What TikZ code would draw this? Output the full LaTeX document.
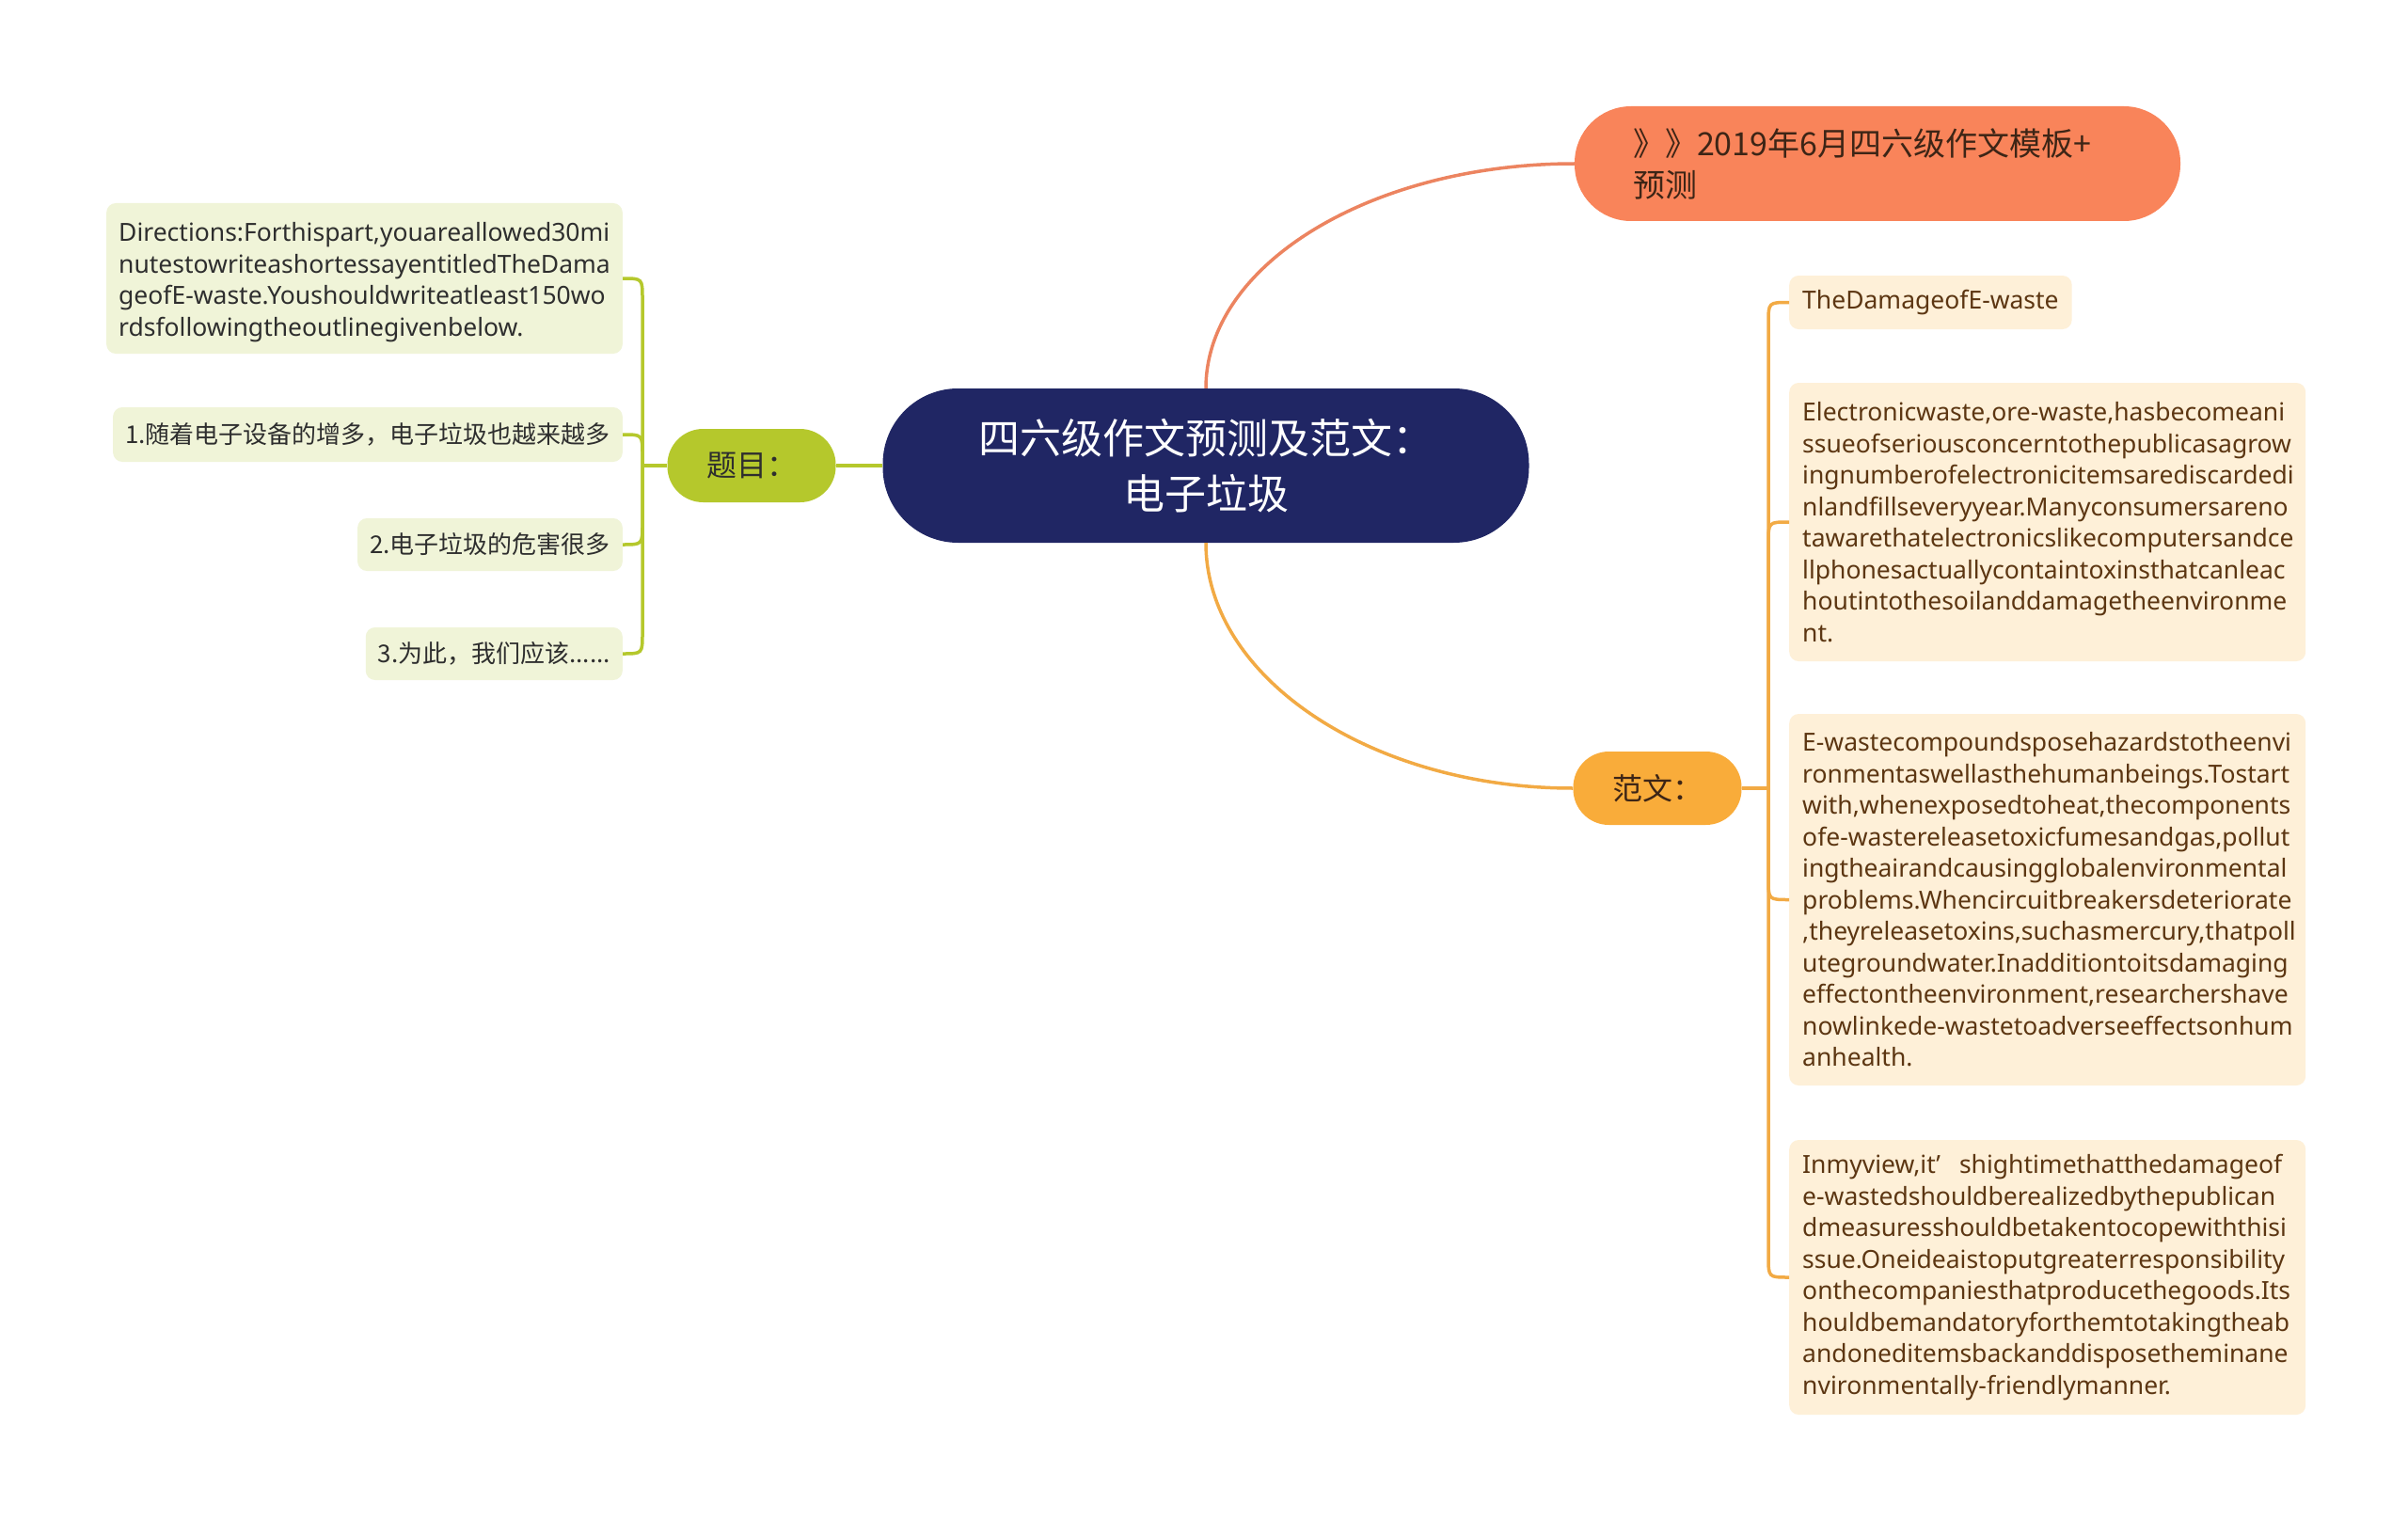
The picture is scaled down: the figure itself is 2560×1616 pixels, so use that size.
\documentclass[tikz,border=0pt]{standalone}
\usepackage{fontspec}
\setmainfont{Noto Sans}
\newfontfamily\cjk{Noto Sans CJK SC}
\definecolor{hubnavy}{HTML}{202664}
\definecolor{topfill}{HTML}{F9845A}
\definecolor{topline}{HTML}{EC8460}
\definecolor{toptext}{HTML}{3D2516}
\definecolor{grn}{HTML}{B5C82C}
\definecolor{grnbox}{HTML}{F0F4D8}
\definecolor{grntext}{HTML}{2E2E2E}
\definecolor{ylw}{HTML}{F9AC3A}
\definecolor{ylwline}{HTML}{F2AA44}
\definecolor{cream}{HTML}{FEF0D8}
\definecolor{browntext}{HTML}{5C3612}
\hyphenpenalty=10000
\exhyphenpenalty=10000
\begin{document}
\begin{tikzpicture}[x=1pt,y=-1pt,
  hub/.style={fill=hubnavy,text=white,rounded corners=80pt,minimum width=687pt,minimum height=164pt,
    align=center,font=\cjk\fontsize{44}{59}\selectfont,inner sep=0pt},
  topnode/.style={fill=topfill,text=toptext,rounded corners=60pt,minimum height=122pt,
    text width=520pt,align=left,inner xsep=62pt,inner ysep=0pt,font=\cjk\fontsize{34}{44}\selectfont},
  pill/.style={rounded corners=38pt,minimum width=179pt,minimum height=78pt,inner sep=0pt,
    font=\cjk\fontsize{32}{40}\selectfont},
  gbox/.style={fill=grnbox,text=grntext,rounded corners=10pt,inner xsep=13pt,inner ysep=0pt,
    align=left,anchor=east},
  cbox/.style={fill=cream,text=browntext,rounded corners=10pt,inner xsep=14pt,inner ysep=0pt,
    align=left,anchor=west,font=\fontsize{26.5}{33.5}\selectfont},
  latinfont/.style={font=\fontsize{26.5}{33.5}\selectfont},
  cjkfont/.style={font=\cjk\fontsize{26}{33.5}\selectfont},
  gline/.style={draw=grn,line width=3.5pt},
  oline/.style={draw=topline,line width=3.5pt},
  yline/.style={draw=ylwline,line width=3.5pt}]
\useasboundingbox (0,0) rectangle (2560,1616);
\fill[white] (0,0) rectangle (2560,1616);

% central and first-level nodes
\node[hub] (c) at (1282,495) {四六级作文预测及范文：\\电子垃圾};
\node[topnode] (top) at (1996,174) {》》2019年6月四六级作文模板+\\预测};
\node[pill,fill=grn,text=grntext] (tm) at (799,495) {题目：};
\node[pill,fill=ylw,text=toptext] (fw) at (1762,838) {范文：};

% left boxes
\node[gbox,latinfont,minimum height=160pt] (l1) at (662,296)
 {\rule{0pt}{28pt}Directions:Forthispart,youareallowed30mi\\nutestowriteashortessayentitledTheDama\\geofE-waste.Youshouldwriteatleast150wo\\rdsfollowingtheoutlinegivenbelow.};
\node[gbox,cjkfont,minimum height=58pt] (l2) at (662,462) {1.随着电子设备的增多，电子垃圾也越来越多};
\node[gbox,cjkfont,minimum height=56pt] (l3) at (662,579) {2.电子垃圾的危害很多};
\node[gbox,cjkfont,minimum height=56pt] (l4) at (662,695) {3.为此，我们应该......};

% right boxes
\node[cbox,minimum height=57pt] (r1) at (1902,321.5) {TheDamageofE-waste};
\node[cbox,text width=521pt,minimum height=296pt] (r2) at (1902,555)
 {Electronicwaste,ore-waste,hasbecomeani\\ssueofseriousconcerntothepublicasagrow\\ingnumberofelectronicitemsarediscardedi\\nlandfillseveryyear.Manyconsumersareno\\tawarethatelectronicslikecomputersandce\\llphonesactuallycontaintoxinsthatcanleac\\houtintothesoilanddamagetheenvironme\\nt.};
\node[cbox,text width=521pt,minimum height=395pt] (r3) at (1902,956.5)
 {E-wastecompoundsposehazardstotheenvi\\ronmentaswellasthehumanbeings.Tostart\\with,whenexposedtoheat,thecomponents\\ofe-wastereleasetoxicfumesandgas,pollut\\ingtheairandcausingglobalenvironmental\\problems.Whencircuitbreakersdeteriorate\\,theyreleasetoxins,suchasmercury,thatpoll\\utegroundwater.Inadditiontoitsdamaging\\effectontheenvironment,researchershave\\nowlinkede-wastetoadverseeffectsonhum\\anhealth.};
\node[cbox,text width=521pt,minimum height=292pt] (r4) at (1902,1358)
 {Inmyview,it’\hspace{20pt}shightimethatthedamageof\\e-wastedshouldberealizedbythepublican\\dmeasuresshouldbetakentocopewiththisi\\ssue.Oneideaistoputgreaterresponsibility\\onthecompaniesthatproducethegoods.Its\\houldbemandatoryforthemtotakingtheab\\andoneditemsbackanddisposetheminane\\nvironmentally-friendlymanner.};

% connectors from the centre
\draw[gline] (c.west) -- (tm.east);
\draw[oline] (c.north) .. controls (1282,280) and (1460,174) .. (top.west);
\draw[yline] (c.south) .. controls (1282,721) and (1459,838) .. (fw.west);

% left branch
\coordinate (lj) at (683,495);
\draw[gline] (tm.west) -- (lj);
\draw[gline] (lj) -- (683,318) .. controls (683,296) .. (l1.east);
\draw[gline] (lj) -- (683,484) .. controls (683,462) .. (l2.east);
\draw[gline] (lj) -- (683,557) .. controls (683,579) .. (l3.east);
\draw[gline] (lj) -- (683,673) .. controls (683,695) .. (l4.east);

% right branch
\coordinate (rj) at (1880,838);
\draw[yline] (fw.east) -- (rj);
\draw[yline] (rj) -- (1880,343.5) .. controls (1880,321.5) .. (r1.west);
\draw[yline] (rj) -- (1880,577) .. controls (1880,555) .. (r2.west);
\draw[yline] (rj) -- (1880,934.5) .. controls (1880,956.5) .. (r3.west);
\draw[yline] (rj) -- (1880,1336) .. controls (1880,1358) .. (r4.west);
\end{tikzpicture}
\end{document}
